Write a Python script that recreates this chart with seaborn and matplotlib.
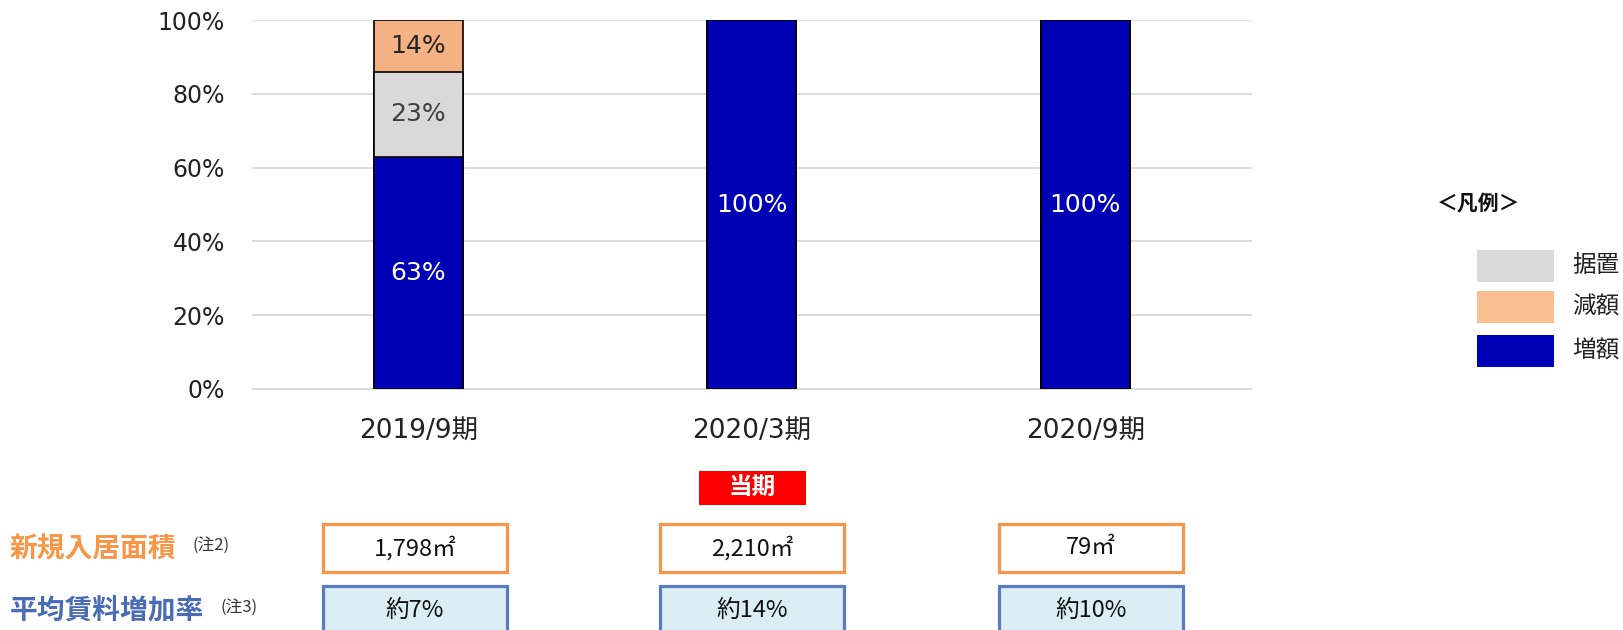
import numpy as np
import pandas as pd
import matplotlib.pyplot as plt
from matplotlib.patches import Rectangle
import seaborn as sns

# ---- data ----
periods = ['2019/9期', '2020/3期', '2020/9期']
inc = [63, 100, 100]    # 増額
flat = [23, 0, 0]       # 据置
dec = [14, 0, 0]        # 減額
new_area = ['1,798㎡', '2,210㎡', '79㎡']
rent_up = ['約7%', '約14%', '約10%']
current_idx = 1         # 当期 = 2020/3期
y_ticks = [0, 20, 40, 60, 80, 100]

c_inc, c_flat, c_dec = '#0000B4', '#D9D9D9', '#F4B183'
c_orange, c_blue = '#F79646', '#5B7BC0'

df = pd.DataFrame({'period': periods, 'inc': inc, 'flat': flat, 'dec': dec})
df['base'] = df['inc']
df['mid'] = df['inc'] + df['flat']
df['top'] = df['mid'] + df['dec']

sns.set_theme(style='white')
plt.rcParams['font.family'] = ['DejaVu Sans', 'Noto Sans CJK JP']
JP = ['Noto Sans CJK JP', 'DejaVu Sans']

W, H = 1623, 630
fig = plt.figure(figsize=(W / 100, H / 100), dpi=100)
ax = fig.add_axes([251.5 / W, 1 - 389 / H, (1252 - 251.5) / W, (389 - 20) / H])

# stacked bars: draw cumulative totals, tallest first
for col, color in [('top', c_dec), ('mid', c_flat), ('base', c_inc)]:
    sns.barplot(data=df, x='period', y=col, color=color, saturation=1,
                edgecolor='black', linewidth=1.2, width=0.267,
                errorbar=None, ax=ax, zorder=3)

# segment labels
for i in range(len(periods)):
    segs = [(0, inc[i], '#FFFFFF'), (inc[i], flat[i], '#404040'),
            (inc[i] + flat[i], dec[i], '#262626')]
    for start, val, tc in segs:
        if val > 0:
            ax.text(i, start + val / 2, f'{val}%', ha='center', va='center',
                    fontsize=18, color=tc, zorder=4)

ax.set_ylim(0, 100)
ax.set_xlim(-0.5, 2.5)
ax.set_yticks(y_ticks)
ax.set_yticklabels([f'{v}%' for v in y_ticks])
ax.set_xlabel('')
ax.set_ylabel('')
ax.grid(axis='y', color='#D9D9D9', linewidth=1.3)
ax.set_axisbelow(True)
for s in ['top', 'right', 'left']:
    ax.spines[s].set_visible(False)
ax.spines['bottom'].set_color('#D9D9D9')
ax.spines['bottom'].set_linewidth(1.3)
ax.tick_params(axis='y', length=0, pad=19, labelsize=17, labelcolor='#222222')
ax.tick_params(axis='x', length=0, pad=21, labelsize=19, labelcolor='#222222')

# ---- overlay in pixel coords for the table & legend ----
ov = fig.add_axes([0, 0, 1, 1])
ov.set_xlim(0, W)
ov.set_ylim(H, 0)
ov.axis('off')
ov.patch.set_alpha(0)

box_x = [323, 660, 999]
box_w = 184

# 当期 marker
cx = box_x[current_idx] + box_w / 2
ov.add_patch(Rectangle((cx - 53, 471), 107, 34, facecolor='#FF0000', edgecolor='none'))
ov.text(cx, 487, '当期', ha='center', va='center', fontsize=17, fontweight='bold',
        color='white', family=JP)

# row labels
ov.text(10, 549, '新規入居面積', ha='left', va='center', fontsize=20, fontweight='bold',
        color=c_orange, family=JP)
ov.text(192, 545, '(注2)', ha='left', va='center', fontsize=12, color='#333333', family=JP)
ov.text(10, 610, '平均賃料増加率', ha='left', va='center', fontsize=20, fontweight='bold',
        color='#4A6BB5', family=JP)
ov.text(220, 607, '(注3)', ha='left', va='center', fontsize=12, color='#333333', family=JP)

for i in range(len(periods)):
    x0 = box_x[i]
    ov.add_patch(Rectangle((x0, 524), box_w, 48, facecolor='white',
                           edgecolor=c_orange, linewidth=2.3))
    ov.text(x0 + box_w / 2, 548, new_area[i], ha='center', va='center',
            fontsize=17, color='#111111', family=JP)
    ov.add_patch(Rectangle((x0, 586), box_w, 60, facecolor='#DAEEF3',
                           edgecolor=c_blue, linewidth=2.3, clip_on=False))
    ov.text(x0 + box_w / 2, 610, rent_up[i], ha='center', va='center',
            fontsize=17, color='#111111', family=JP)

# legend
ov.text(1437, 204, '＜凡例＞', ha='left', va='center', fontsize=15, fontweight='bold',
        color='#111111', family=JP)
for j, (lab, col) in enumerate([('据置', c_flat), ('減額', '#F8C090'), ('増額', c_inc)]):
    y0 = [250, 291, 335][j]
    ov.add_patch(Rectangle((1477, y0), 77, 32, facecolor=col, edgecolor='none'))
    ov.text(1572, y0 + 16, lab, ha='left', va='center', fontsize=17,
            color='#222222', family=JP)

fig.savefig('out.png', dpi=100)
